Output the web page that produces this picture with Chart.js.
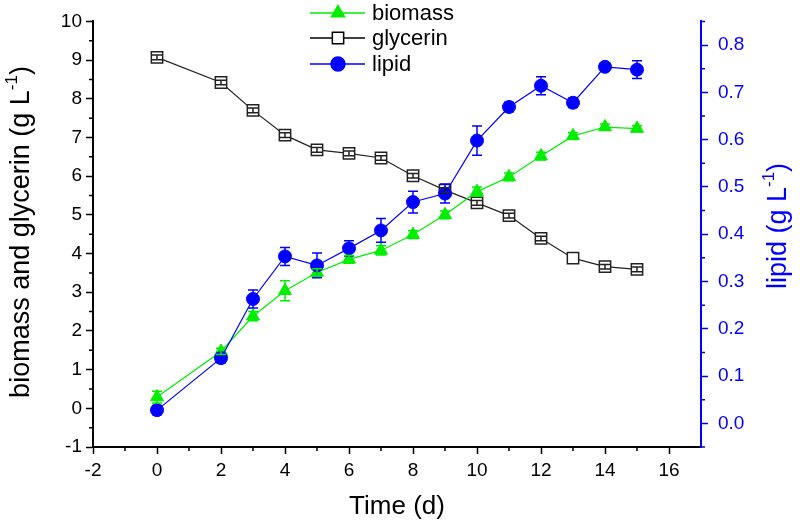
<!DOCTYPE html>
<html>
<head>
<meta charset="utf-8">
<script src="https://cdn.jsdelivr.net/npm/chart.js@4.4.1/dist/chart.umd.min.js"></script>
<style>
  html, body { margin: 0; padding: 0; background: #fff; }
</style>
</head>
<body>
<canvas id="myChart" width="800" height="527"></canvas>
<script>
// data
const days = [0, 2, 3, 4, 5, 6, 7, 8, 9, 10, 11, 12, 13, 14, 15];
const biomass = [0.29, 1.47, 2.38, 3.04, 3.51, 3.85, 4.08, 4.49, 5.0, 5.6, 5.98, 6.52, 7.04, 7.27, 7.23];
const biomassErr = [0.15, 0.08, 0.12, 0.26, 0.1, 0.1, 0.12, 0.1, 0.1, 0.12, 0.1, 0.1, 0.08, 0.08, 0.07];
const glycerin = [9.07, 8.42, 7.7, 7.06, 6.68, 6.59, 6.47, 6.01, 5.64, 5.31, 4.98, 4.39, 3.88, 3.66, 3.59];
const glycerinErr = [0.06, 0.06, 0.06, 0.06, 0.06, 0.06, 0.06, 0.06, 0.06, 0.06, 0.06, 0.06, 0, 0.06, 0.06];
const lipid = [0.028, 0.138, 0.263, 0.353, 0.334, 0.37, 0.408, 0.468, 0.486, 0.598, 0.669, 0.714, 0.678, 0.754, 0.748];
const lipidErr = [0.01, 0.01, 0.019, 0.019, 0.026, 0.016, 0.025, 0.023, 0.02, 0.031, 0.01, 0.019, 0.01, 0.007, 0.019];

const xTicks = [-2, 0, 2, 4, 6, 8, 10, 12, 14, 16];
const xMinor = [-1, 1, 3, 5, 7, 9, 11, 13, 15];
const leftTicks = [-1, 0, 1, 2, 3, 4, 5, 6, 7, 8, 9, 10];
const leftMinor = [-0.5, 0.5, 1.5, 2.5, 3.5, 4.5, 5.5, 6.5, 7.5, 8.5, 9.5];
const rightTicks = [0, 0.1, 0.2, 0.3, 0.4, 0.5, 0.6, 0.7, 0.8];
const rightMinor = [-0.05, 0.05, 0.15, 0.25, 0.35, 0.45, 0.55, 0.65, 0.75, 0.85];

const FONT = '"Liberation Sans", Arial, sans-serif';
const BLUE = '#0000ff';
const GREEN = '#00ee00';

function punkte(werte) {
    return days.map((d, i) => ({ x: d, y: werte[i] }));
}

// rotated / plain label with a superscript part
function tulisLabel(ctx, x, y, angle, base, sup, tail, size, color) {
    ctx.save();
    ctx.translate(x, y);
    ctx.rotate(angle);
    ctx.fillStyle = color;
    ctx.textBaseline = 'middle';
    ctx.textAlign = 'left';
    const big = size + 'px ' + FONT;
    const small = Math.round(size * 0.62) + 'px ' + FONT;
    ctx.font = big;
    const w1 = ctx.measureText(base).width;
    const w3 = tail ? ctx.measureText(tail).width : 0;
    ctx.font = small;
    const w2 = sup ? ctx.measureText(sup).width : 0;
    let cx = -(w1 + w2 + w3) / 2;
    ctx.font = big;
    ctx.fillText(base, cx, 0);
    cx += w1;
    if (sup) {
        ctx.font = small;
        ctx.fillText(sup, cx, -size * 0.36);
        cx += w2;
    }
    if (tail) {
        ctx.font = big;
        ctx.fillText(tail, cx, 0);
    }
    ctx.restore();
}

const errorBars = {
    id: 'errorBars',
    afterDatasetsDraw(chart) {
        const ctx = chart.ctx;
        const xs = chart.scales.x;
        chart.data.datasets.forEach((ds, di) => {
            if (!ds.err) return;
            const ys = chart.scales[ds.yAxisID];
            ctx.save();
            ctx.strokeStyle = ds.borderColor;
            ctx.lineWidth = 1.5;
            ds.data.forEach((p, i) => {
                const e = ds.err[i];
                if (!e) return;
                const px = xs.getPixelForValue(p.x);
                const top = ys.getPixelForValue(p.y + e);
                const bot = ys.getPixelForValue(p.y - e);
                const w = ds.capHalf;
                ctx.beginPath();
                ctx.moveTo(px, top); ctx.lineTo(px, bot);
                ctx.moveTo(px - w, top); ctx.lineTo(px + w, top);
                ctx.moveTo(px - w, bot); ctx.lineTo(px + w, bot);
                ctx.stroke();
            });
            ctx.restore();
        });
    }
};

const minorTicks = {
    id: 'minorTicks',
    afterDraw(chart) {
        const ctx = chart.ctx;
        const { x, y, y2 } = chart.scales;
        ctx.save();
        ctx.lineWidth = 1.5;
        ctx.strokeStyle = '#000';
        ctx.beginPath();
        xMinor.forEach(v => {
            const px = x.getPixelForValue(v);
            ctx.moveTo(px, x.top); ctx.lineTo(px, x.top + 4);
        });
        leftMinor.forEach(v => {
            const py = y.getPixelForValue(v);
            ctx.moveTo(y.right, py); ctx.lineTo(y.right - 4, py);
        });
        ctx.stroke();
        ctx.strokeStyle = BLUE;
        ctx.beginPath();
        rightMinor.forEach(v => {
            const py = y2.getPixelForValue(v);
            ctx.moveTo(y2.left, py); ctx.lineTo(y2.left + 4, py);
        });
        ctx.stroke();
        ctx.restore();
    }
};

const judulDanLegenda = {
    id: 'judulDanLegenda',
    afterDraw(chart) {
        const ctx = chart.ctx;
        tulisLabel(ctx, 22, 232, -Math.PI / 2, 'biomass and glycerin (g L', '-1', ')', 27, '#000');
        tulisLabel(ctx, 779, 226, -Math.PI / 2, 'lipid (g L', '-1', ')', 27, BLUE);
        tulisLabel(ctx, 397, 507, 0, 'Time (d)', '', '', 26, '#000');

        // legend in the top of the plot
        const items = [
            { text: 'biomass', color: GREEN, style: 'triangle', radius: 7.5, fill: GREEN, y: 13 },
            { text: 'glycerin', color: '#000', style: 'rect', radius: 8, fill: '#fff', y: 38 },
            { text: 'lipid', color: BLUE, style: 'circle', radius: 7, fill: BLUE, y: 64 }
        ];
        items.forEach(it => {
            ctx.save();
            ctx.strokeStyle = it.color;
            ctx.lineWidth = 1.5;
            ctx.beginPath();
            ctx.moveTo(310, it.y); ctx.lineTo(365, it.y);
            ctx.stroke();
            ctx.fillStyle = it.fill;
            ctx.lineWidth = 1.5;
            Chart.helpers.drawPoint(ctx, { pointStyle: it.style, radius: it.radius, rotation: 0, borderWidth: 1.5 }, 338, it.y);
            ctx.fillStyle = '#000';
            ctx.font = '22px ' + FONT;
            ctx.textBaseline = 'middle';
            ctx.fillText(it.text, 372, it.y + 1);
            ctx.restore();
        });
    }
};

const ctx = document.getElementById('myChart').getContext('2d');
const myChart = new Chart(ctx, {
    type: 'line',
    data: {
        datasets: [
            {
                label: 'lipid',
                data: punkte(lipid),
                err: lipidErr,
                capHalf: 5,
                yAxisID: 'y2',
                borderColor: BLUE,
                backgroundColor: BLUE,
                pointStyle: 'circle',
                pointRadius: 6.5,
                borderWidth: 1.2,
                pointBorderWidth: 1
            },
            {
                label: 'biomass',
                data: punkte(biomass),
                err: biomassErr,
                capHalf: 5,
                yAxisID: 'y',
                borderColor: GREEN,
                backgroundColor: GREEN,
                pointStyle: 'triangle',
                pointRadius: 7.5,
                borderWidth: 1.2,
                pointBorderWidth: 1
            },
            {
                label: 'glycerin',
                data: punkte(glycerin),
                err: glycerinErr,
                capHalf: 5,
                yAxisID: 'y',
                borderColor: '#222',
                backgroundColor: '#fff',
                pointStyle: 'rect',
                pointRadius: 8,
                borderWidth: 1.2,
                pointBorderWidth: 1.5
            }
        ]
    },
    options: {
        responsive: false,
        animation: false,
        devicePixelRatio: 1,
        layout: { padding: { top: 13, left: 0, right: 0, bottom: 0 } },
        plugins: {
            legend: { display: false },
            tooltip: { enabled: false }
        },
        scales: {
            x: {
                type: 'linear',
                position: 'bottom',
                min: -2,
                max: 17,
                afterBuildTicks: s => { s.ticks = xTicks.map(v => ({ value: v })); },
                afterFit: s => { s.height = 80; },
                ticks: { color: '#000', font: { family: FONT, size: 19 }, padding: 5, maxRotation: 0, autoSkip: false },
                grid: { drawOnChartArea: false, tickLength: 7, tickColor: '#000', tickWidth: 1.5 },
                border: { color: '#000', width: 2 }
            },
            y: {
                type: 'linear',
                position: 'left',
                min: -1,
                max: 10,
                afterBuildTicks: s => { s.ticks = leftTicks.map(v => ({ value: v })); },
                afterFit: s => { s.width = 93; },
                ticks: { color: '#000', font: { family: FONT, size: 19 }, padding: 4 },
                grid: { drawOnChartArea: false, tickLength: 7, tickColor: '#000', tickWidth: 1.5 },
                border: { color: '#000', width: 2 }
            },
            y2: {
                type: 'linear',
                position: 'right',
                min: -0.05,
                max: 0.85,
                afterBuildTicks: s => { s.ticks = rightTicks.map(v => ({ value: v })); },
                afterFit: s => { s.width = 99; },
                ticks: { color: BLUE, font: { family: FONT, size: 19 }, padding: 10, callback: v => v.toFixed(1) },
                grid: { drawOnChartArea: false, tickLength: 7, tickColor: BLUE, tickWidth: 1.5 },
                border: { color: BLUE, width: 2 }
            }
        }
    },
    plugins: [errorBars, minorTicks, judulDanLegenda]
});
</script>
</body>
</html>
